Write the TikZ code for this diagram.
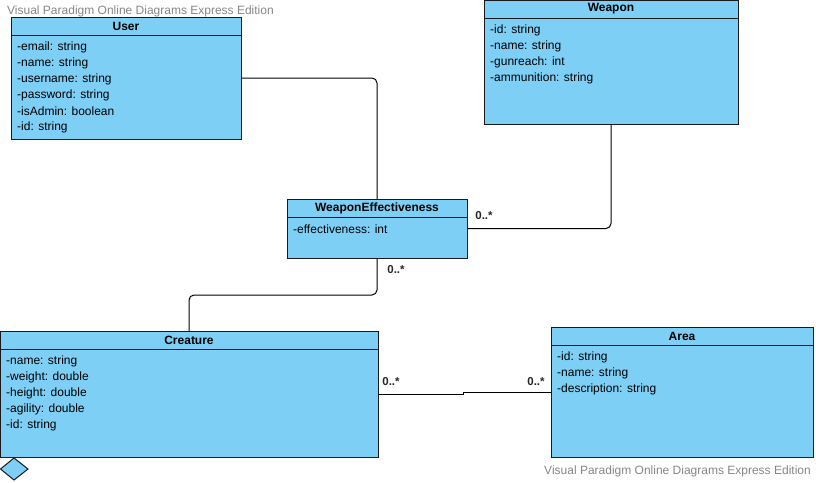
\documentclass[tikz,border=0pt]{standalone}
\usepackage{fontspec}
\setmainfont{Liberation Sans}
\usetikzlibrary{calc}
\definecolor{classfill}{RGB}{125,207,245}
\definecolor{classline}{RGB}{25,25,30}
\definecolor{markgray}{RGB}{135,135,135}
\tikzset{
  classbox/.style={draw=classline, line width=1pt, fill=classfill, anchor=north west, inner sep=0pt, outer sep=0pt},
  headtext/.style={font=\fontsize{12}{14}\selectfont\bfseries, text=black, inner sep=0pt},
  attrtext/.style={font=\fontsize{12}{14}\selectfont, text=black, anchor=west, inner sep=0pt},
  multtext/.style={font=\fontsize{11.5}{13}\selectfont\bfseries, text=black!85, inner sep=0pt},
  assoc/.style={draw=black, line width=1pt, rounded corners=5pt},
  watermark/.style={font=\fontsize{12}{14}\selectfont, text=markgray, inner sep=0pt}
}
% class box: name, x, y, width, height, title, attribute list
\newcommand{\umlclass}[7]{%
  \node[classbox, minimum width=#4pt, minimum height=#5pt] (#1) at (#2,#3) {};
  \draw[classline, line width=1pt] ($(#1.north west)+(0,-18pt)$) -- ($(#1.north east)+(0,-18pt)$);
  \node[headtext] (#1-title) at ($(#1.north)+(0,-9pt)$) {#6};
  \foreach \attr [count=\i] in {#7} {
    \node[attrtext] (#1-a\i) at ($(#1.north west)+(6pt,{-30.5pt-16pt*(\i-1)})$) {\attr};
  }%
}
\begin{document}
\begin{tikzpicture}[x=1pt,y=-1pt]
\useasboundingbox (0,0) rectangle (816,482);
\fill[white] (0,0) rectangle (816,482);

\node[watermark, anchor=west] (wmtop) at (7,11) {Visual Paradigm Online Diagrams Express Edition};
\node[watermark, anchor=east] (wmbot) at (811,471) {Visual Paradigm Online Diagrams Express Edition};

\umlclass{user}{11}{17}{230}{122}{User}{-email: string,-name: string,-username: string,-password: string,-isAdmin: boolean,-id: string}
\umlclass{weapon}{484}{0}{254}{124}{Weapon}{-id: string,-name: string,-gunreach: int,-ammunition: string}
\umlclass{we}{287}{199}{180}{59}{WeaponEffectiveness}{-effectiveness: int}
\umlclass{creature}{0}{331}{378}{126}{Creature}{-name: string,-weight: double,-height: double,-agility: double,-id: string}
\umlclass{area}{551}{327}{262}{130}{Area}{-id: string,-name: string,-description: string}

% associations
\draw[assoc] (user.east) -| (we.north);
\draw[assoc] (weapon.south) |- (we.east);
\draw[assoc] (we.south) -- ++(0,37) -| (creature.north);
\coordinate (jog) at (463,0);
\draw[assoc, rounded corners=0pt] (creature.east) -- (jog |- creature.east) -- (jog |- area.west) -- (area.west);

% multiplicities
\node[multtext] (m1) at (484,216) {0..*};
\node[multtext] (m2) at (396,270) {0..*};
\node[multtext] (m3) at (391,382) {0..*};
\node[multtext] (m4) at (536,382) {0..*};

% aggregation diamond
\draw[classline, line width=1pt, fill=classfill] (0.5,469) -- (14,458) -- (28,469) -- (14,480) -- cycle;
\end{tikzpicture}
\end{document}
